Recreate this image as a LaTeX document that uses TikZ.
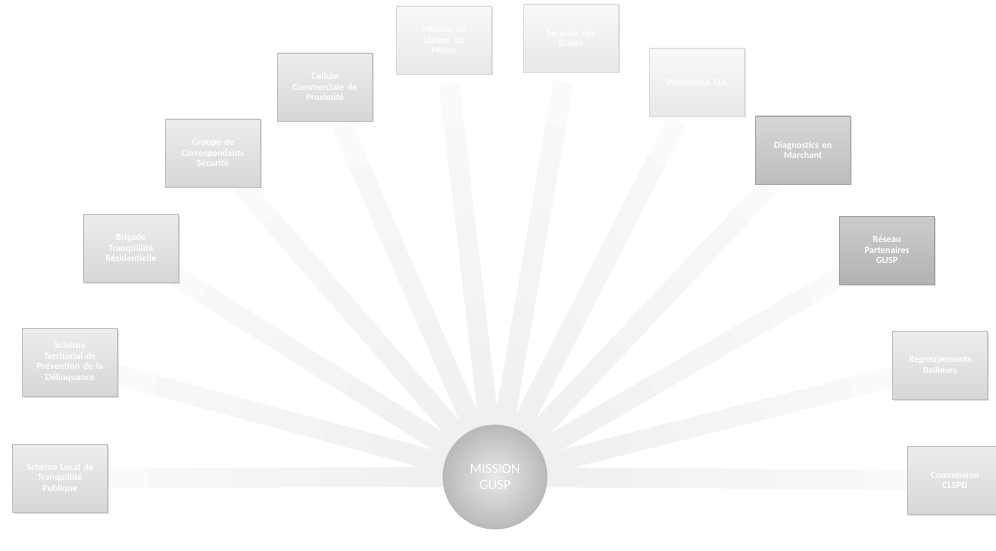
\documentclass[tikz,border=0pt]{standalone}
\usepackage{fontspec}
\setmainfont{Carlito}
\usetikzlibrary{backgrounds,shadows,calc}
\begin{document}
\begin{tikzpicture}[x=1pt,y=1pt,
  card/.style={rectangle, minimum width=95pt, minimum height=68pt, text width=88pt,
    align=center, font=\fontsize{9.5}{10.5}\selectfont\bfseries, text=white,
    draw=gray!50, line width=0.6pt, top color=gray!14, bottom color=gray!32,
    drop shadow={shadow xshift=1.5pt, shadow yshift=-1.5pt, opacity=0.25}},
  darkcard/.style={card, draw=gray!75, top color=gray!40, bottom color=gray!60},
  midcard/.style={card, draw=gray!70, top color=gray!32, bottom color=gray!52},
  pale/.style={card, draw=gray!28, top color=gray!5, bottom color=gray!18},
  hub/.style={circle, minimum size=104pt, draw=gray!55, line width=0.8pt,
    inner color=gray!18, outer color=gray!55, text=white, align=center,
    font=\fontsize{14}{16}\selectfont},
  ray/.style={line width=20pt, line cap=butt}]
\useasboundingbox (0,0) rectangle (996,550);

% satellite cards
\node[card]     (s1)  at (60,72)   {Schéma Local de\\Tranquillité\\Publique};
\node[card]     (s2)  at (70,188)  {Schéma\\Territorial de\\Prévention de la\\Délinquance};
\node[card]     (s3)  at (131,302) {Brigade\\Tranquillité\\Résidentielle};
\node[card]     (s4)  at (213,397) {Groupe de\\Correspondants\\Sécurité};
\node[card]     (s5)  at (325,463) {Cellule\\Commerciale de\\Proximité};
\node[pale]     (s6)  at (444,510) {Mission de\\Liaison du\\Métro};
\node[pale]     (s7)  at (571,512) {Sécurité des\\Écoles};
\node[pale]     (s8)  at (697,468) {Prévention CLS};
\node[midcard]  (s9)  at (803,400) {Diagnostics en\\Marchant};
\node[darkcard] (s10) at (887,300) {Réseau\\Partenaires\\GUSP};
\node[card]     (s11) at (940,185) {Regroupements\\Bailleurs};
\node[card]     (s12) at (955,70)  {Commission\\CLSPD};

% central hub
\node[hub] (hub) at (495,73) {MISSION\\GUSP};

% white page and soft beams from the hub, fading towards every card
\begin{scope}[on background layer]
  \fill[white] (0,0) rectangle (996,550);
  \foreach \s in {s1,s2,s3,s4,s5,s6,s7,s8,s9,s10,s11,s12}{
    \foreach \a/\b/\c in {0.10/0.20/12, 0.20/0.30/11, 0.30/0.40/10, 0.40/0.50/9,
                          0.50/0.60/8, 0.60/0.70/7, 0.70/0.80/6, 0.80/0.90/4}
      \draw[ray, draw=gray!\c] ($(hub.center)!\a!(\s.center)$) -- ($(hub.center)!\b!(\s.center)$);
  }
\end{scope}
\end{tikzpicture}
\end{document}
